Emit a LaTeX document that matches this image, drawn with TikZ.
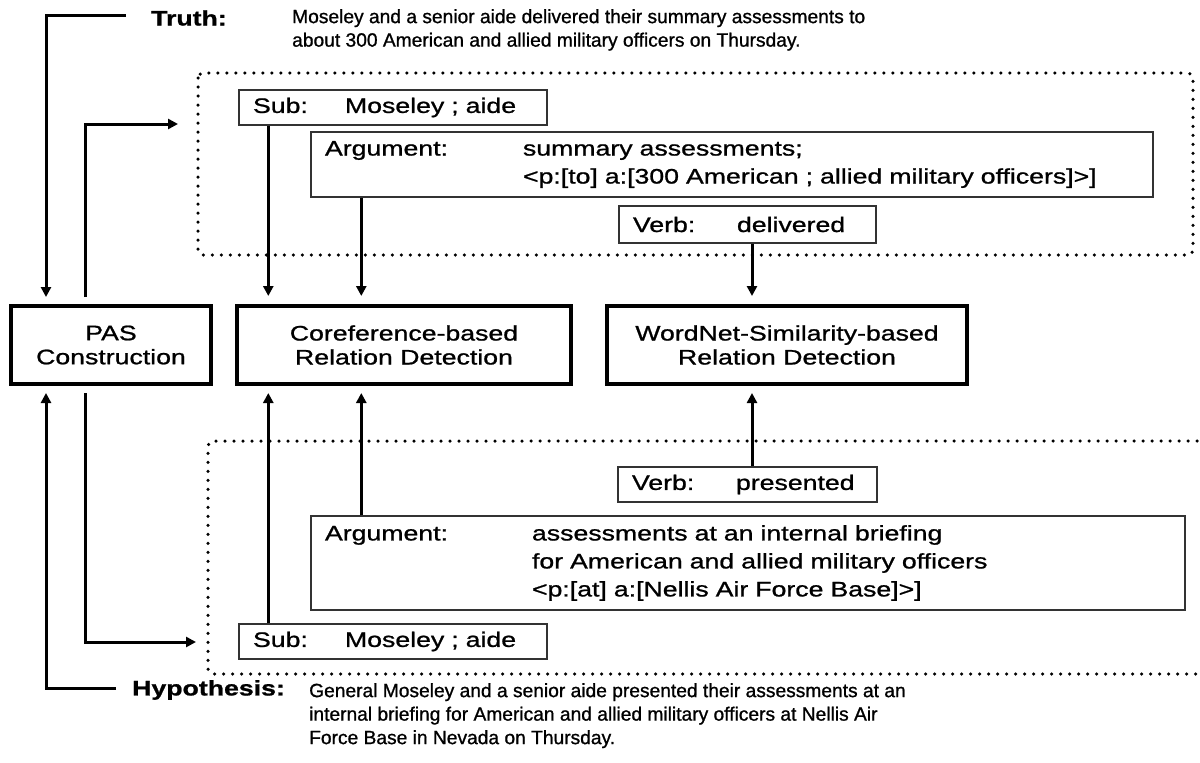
\documentclass[tikz,border=0pt]{standalone}
\usepackage{fontspec}
\setmainfont{Liberation Sans}[FakeBold=1]
\newfontfamily\widefont[FakeStretch=1.27, FakeBold=1]{Liberation Sans}
\usetikzlibrary{arrows.meta}

\def\subcol{92pt}
\def\verbcol{104pt}

\tikzset{
  link/.style={line width=3pt, -{Triangle[length=10pt,width=10pt]}},
  stage/.style={draw, line width=4pt, minimum height=78pt, inner sep=0pt, align=center,
    font={\widefont\fontsize{21}{24}\selectfont}},
  item/.style={draw=black!80, line width=1.4pt, inner xsep=14pt, inner ysep=0pt, align=left,
    font={\widefont\fontsize{21}{28}\selectfont}},
  dotbox/.style={line width=3.5pt, line cap=round, dash pattern=on 0pt off 9pt, rounded corners=5pt},
  sentence/.style={anchor=north west, inner sep=0pt, align=left,
    font={\fontsize{19.2}{23.5}\selectfont}},
  tag/.style={anchor=west, inner sep=0pt, font={\widefont\bfseries\fontsize{21}{24}\selectfont}}
}

\begin{document}
\begin{tikzpicture}[x=1pt, y=-1pt]
  \useasboundingbox (0,0) rectangle (1200,763);

  % sentences
  \node[tag] (truthlbl) at (151,18) {Truth:};
  \node[sentence] (truthtxt) at (292,9) {Moseley and a senior aide delivered their summary assessments to\\about 300 American and allied military officers on Thursday.};
  \node[tag] (hyplbl) at (132,690) {Hypothesis:};
  \node[sentence] (hyptxt) at (309,683) {General Moseley and a senior aide presented their assessments at an\\internal briefing for American and allied military officers at Nellis Air\\Force Base in Nevada on Thursday.};

  % dotted frames
  \draw[dotbox] (198,73) rectangle (1193,255);
  \draw[dotbox] (1215,441) -- (208,441) -- (208,674) -- (1215,674);

  % stages
  \node[stage, minimum width=200pt] (pas) at (111,345) {PAS\\Construction};
  \node[stage, minimum width=334pt] (coref) at (404,345) {Coreference-based\\Relation Detection};
  \node[stage, minimum width=360pt] (wordnet) at (787,345) {WordNet-Similarity-based\\Relation Detection};

  % truth PAS
  \node[item, text width=280pt, minimum height=35pt] (subT) at (393,107.5) {\makebox[\subcol][l]{Sub:}Moseley ; aide};
  \node[item, text width=814pt, minimum height=65pt] (argT) at (732,164.5) {\makebox[198pt][l]{Argument:}summary assessments;\\\hspace*{198pt}<p:[to] a:[300 American ; allied military officers]>]};
  \node[item, text width=229pt, minimum height=37pt] (verbT) at (747.5,224.5) {\makebox[\verbcol][l]{Verb:}delivered};

  % hypothesis PAS
  \node[item, text width=231pt, minimum height=35pt] (verbH) at (747.5,484.5) {\makebox[\verbcol][l]{Verb:}presented};
  \node[item, text width=846pt, minimum height=94pt] (argH) at (748,563) {\makebox[207pt][l]{Argument:}assessments at an internal briefing\\\hspace*{207pt}for American and allied military officers\\\hspace*{207pt}<p:[at] a:[Nellis Air Force Base]>]};
  \node[item, text width=280pt, minimum height=35pt] (subH) at (393,641.5) {\makebox[\subcol][l]{Sub:}Moseley ; aide};

  \coordinate (tin) at (178,124);
  \coordinate (hin) at (196,642);

  \coordinate (s1) at ([xshift=30pt]subT.south west);
  \coordinate (a1) at ([xshift=51pt]argT.south west);
  \coordinate (v1) at ([xshift=4.5pt]verbT.south);
  \coordinate (s2) at ([xshift=30pt]subH.north west);
  \coordinate (a2) at ([xshift=51pt]argH.north west);
  \coordinate (v2) at ([xshift=4.5pt]verbH.north);

  % PAS construction loop
  \draw[link, shorten >=7pt] ([xshift=-25pt,yshift=3pt]truthlbl.west) -| ([xshift=-65pt]pas.north);
  \draw[link, shorten <=7pt] ([xshift=-26pt]pas.north) |- (tin);
  \draw[link, shorten >=7pt] ([xshift=-16pt,yshift=2pt]hyplbl.west) -| ([xshift=-65pt]pas.south);
  \draw[link, shorten <=7pt] ([xshift=-26pt]pas.south) |- (hin);

  % into the detectors
  \foreach \p in {s1,a1}{
    \draw[link, shorten >=8pt] (\p) -- (\p |- coref.north);
  }
  \foreach \p in {s2,a2}{
    \draw[link, shorten >=7pt] (\p) -- (\p |- coref.south);
  }
  \draw[link, shorten >=8pt] (v1) -- (v1 |- wordnet.north);
  \draw[link, shorten >=7pt] (v2) -- (v2 |- wordnet.south);

\end{tikzpicture}
\end{document}
